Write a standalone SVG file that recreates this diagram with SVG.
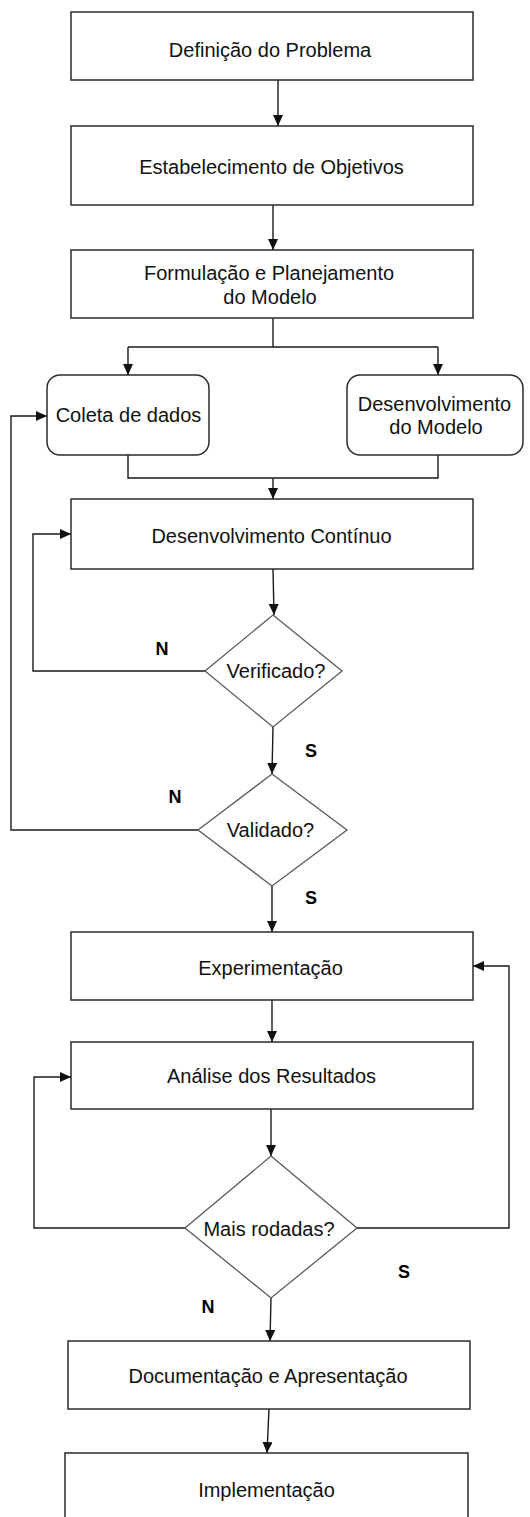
<svg xmlns="http://www.w3.org/2000/svg" width="530" height="1517" viewBox="0 0 530 1517">
  <defs>
    <marker id="arrow" viewBox="0 0 11 10" refX="11" refY="5" markerWidth="11" markerHeight="10" markerUnits="userSpaceOnUse" orient="auto">
      <path d="M0,0 L11,5 L0,10 z" fill="#111"/>
    </marker>
  </defs>
  <style>
    .box { fill: #fff; stroke: #2b2b2b; stroke-width: 1.5; }
    .dia { fill: #fff; stroke: #5a5a5a; stroke-width: 1.3; }
    .lbl { font-family: "Liberation Sans", Arial, sans-serif; font-size: 20px; fill: #111; text-anchor: middle; }
    .yn { font-family: "Liberation Sans", Arial, sans-serif; font-size: 18px; font-weight: bold; fill: #000; text-anchor: middle; }
    .link { fill: none; stroke: #1a1a1a; stroke-width: 1.4; }
    .arr { marker-end: url(#arrow); }
  </style>
  <rect width="530" height="1517" fill="#fff"/>

  <!-- connectors -->
  <g id="connectors">
    <path class="link arr" d="M278,80 L278,126"/>
    <path class="link arr" d="M273,205 L273,250"/>
    <path class="link" d="M273,318 L273,347 M128,347 L438,347"/>
    <path class="link arr" d="M128,347 L128,375"/>
    <path class="link arr" d="M438,347 L438,375"/>
    <path class="link" d="M128,455 L128,478 L438,478 L438,455"/>
    <path class="link arr" d="M273,478 L273,499"/>
    <path class="link arr" d="M273,569 L274,615"/>
    <path class="link arr" d="M205,671 L33,671 L33,534 L71,534"/>
    <path class="link arr" d="M273,727 L272,774"/>
    <path class="link arr" d="M198,830 L11,830 L11,416 L47,416"/>
    <path class="link arr" d="M272,886 L272,932"/>
    <path class="link arr" d="M272,1000 L272,1042"/>
    <path class="link arr" d="M271,1109 L271,1156"/>
    <path class="link arr" d="M185,1228 L34,1228 L34,1077 L71,1077"/>
    <path class="link arr" d="M357,1228 L509,1228 L509,966 L473,966"/>
    <path class="link arr" d="M271,1298 L270,1341"/>
    <path class="link arr" d="M269,1409 L267,1453"/>
    <text class="yn" x="162" y="655">N</text>
    <text class="yn" x="311" y="757">S</text>
    <text class="yn" x="175" y="803">N</text>
    <text class="yn" x="311" y="904">S</text>
    <text class="yn" x="404" y="1278">S</text>
    <text class="yn" x="208" y="1313">N</text>
  </g>

  <g id="definicao">
    <rect class="box" x="71" y="12" width="402" height="68"/>
    <text class="lbl" x="270" y="57">Definição do Problema</text>
  </g>
  <g id="objetivos">
    <rect class="box" x="71" y="126" width="402" height="79"/>
    <text class="lbl" x="271.5" y="174">Estabelecimento de Objetivos</text>
  </g>
  <g id="formulacao">
    <rect class="box" x="71" y="250" width="402" height="68"/>
    <text class="lbl" x="269" y="280">Formulação e Planejamento</text>
    <text class="lbl" x="270" y="304">do Modelo</text>
  </g>
  <g id="coleta">
    <rect class="box" x="47" y="375" width="162" height="80" rx="13" ry="13"/>
    <text class="lbl" x="128.5" y="422">Coleta de dados</text>
  </g>
  <g id="desenv-modelo">
    <rect class="box" x="347" y="375" width="176" height="80" rx="13" ry="13"/>
    <text class="lbl" x="434.5" y="411">Desenvolvimento</text>
    <text class="lbl" x="436" y="434">do Modelo</text>
  </g>
  <g id="desenv-continuo">
    <rect class="box" x="71" y="499" width="402" height="70"/>
    <text class="lbl" x="271.5" y="543">Desenvolvimento Contínuo</text>
  </g>
  <g id="verificado">
    <polygon class="dia" points="273,615 342,671 273,727 205,671"/>
    <text class="lbl" x="276" y="678">Verificado?</text>
  </g>
  <g id="validado">
    <polygon class="dia" points="272,774 347,830 272,886 198,830"/>
    <text class="lbl" x="270.5" y="837">Validado?</text>
  </g>
  <g id="experimentacao">
    <rect class="box" x="71" y="932" width="402" height="68"/>
    <text class="lbl" x="270.5" y="975">Experimentação</text>
  </g>
  <g id="analise">
    <rect class="box" x="71" y="1042" width="402" height="67"/>
    <text class="lbl" x="271.5" y="1083">Análise dos Resultados</text>
  </g>
  <g id="mais-rodadas">
    <polygon class="dia" points="271,1156 357,1228 271,1298 185,1228"/>
    <text class="lbl" x="269" y="1236">Mais rodadas?</text>
  </g>
  <g id="documentacao">
    <rect class="box" x="68" y="1341" width="402" height="68"/>
    <text class="lbl" x="268" y="1383">Documentação e Apresentação</text>
  </g>
  <g id="implementacao">
    <rect class="box" x="65" y="1453" width="403" height="80"/>
    <text class="lbl" x="266.5" y="1497">Implementação</text>
  </g>
</svg>
